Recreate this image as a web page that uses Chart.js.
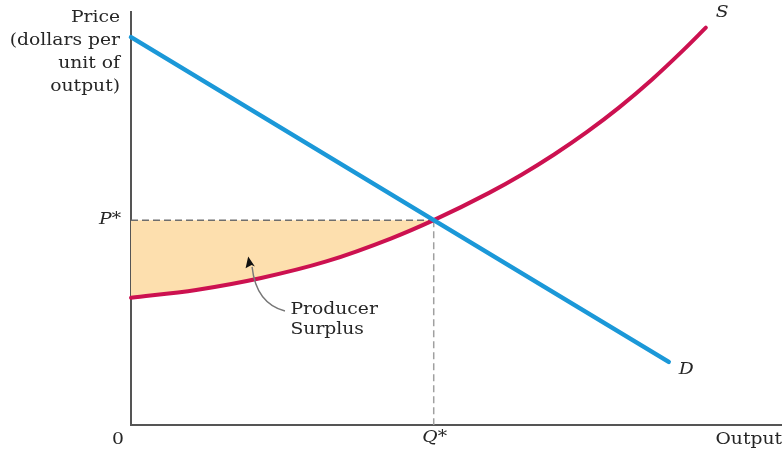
<!DOCTYPE html>
<html>
<head>
<meta charset="utf-8">
<script src="https://cdn.jsdelivr.net/npm/chart.js@4.4.1/dist/chart.umd.min.js"></script>
<style>
  html, body { margin: 0; padding: 0; background: #ffffff; }
  #wrap { width: 782px; height: 460px; position: relative; }
</style>
</head>
<body>
<div id="wrap"><canvas id="chart"></canvas></div>
<script>
// Supply curve (quantity, price)
const supplyQ = [0, 10, 20, 30, 40, 46.5, 55, 60, 65, 70, 75, 80, 85, 88.3];
const supplyP = [30.8, 32.7, 35.6, 39.6, 45.2, 49.6, 56.2, 60.6, 65.5, 70.9, 76.9, 83.6, 91.0, 96.2];

// Demand line (quantity, price)
const demandQ = [0, 46.5, 82.6];
const demandP = [93.9, 49.6, 15.3];

// Market equilibrium
const eqQ = 46.5;
const eqP = 49.6;

const toPts = (xs, ys) => xs.map((x, i) => ({ x: x, y: ys[i] }));

// Producer surplus: between the price line P* and the supply curve, up to Q*
const surplusLower = toPts(supplyQ, supplyP).filter(p => p.x <= eqQ);
const surplusUpper = surplusLower.map(p => ({ x: p.x, y: eqP }));

const SERIF = '"DejaVu Serif", "Liberation Serif", serif';
const TEXT_STRETCH = 1.17;

// text drawn slightly widened, book-figure style
function wideText(ctx, text, x, y, align) {
  ctx.save();
  ctx.translate(x, y);
  ctx.scale(TEXT_STRETCH, 1);
  ctx.textAlign = align;
  ctx.fillText(text, 0, 0);
  ctx.restore();
}

const labelsPlugin = {
  id: 'econLabels',
  afterDraw(chart) {
    const { ctx, scales: { x, y } } = chart;
    const px = v => x.getPixelForValue(v);
    const py = v => y.getPixelForValue(v);
    ctx.save();
    ctx.fillStyle = '#262626';
    ctx.textBaseline = 'middle';

    // y-axis title
    ctx.font = '16px ' + SERIF;
    const yTitle = ['Price', '(dollars per', 'unit of', 'output)'];
    yTitle.forEach((t, i) => wideText(ctx, t, px(0) - 11, 18 + i * 23, 'right'));

    // origin and x-axis title
    wideText(ctx, '0', px(0) - 13, py(0) + 15, 'center');
    wideText(ctx, 'Output', chart.width, py(0) + 15, 'right');

    // equilibrium tick labels
    ctx.font = 'italic 16px ' + SERIF;
    wideText(ctx, 'P*', px(0) - 10, py(eqP), 'right');
    wideText(ctx, 'Q*', px(eqQ) + 1, py(0) + 13, 'center');

    // curve names
    const sEnd = supplyQ.length - 1;
    wideText(ctx, 'S', px(supplyQ[sEnd]) + 10, py(supplyP[sEnd]) - 15, 'left');
    const dEnd = demandQ.length - 1;
    wideText(ctx, 'D', px(demandQ[dEnd]) + 10, py(demandP[dEnd]) + 8, 'left');

    // surplus annotation
    ctx.font = '16px ' + SERIF;
    wideText(ctx, 'Producer', px(24.5), py(27.8), 'left');
    wideText(ctx, 'Surplus', px(24.5), py(23.0), 'left');

    // curved pointer to the shaded area
    ctx.strokeStyle = '#777';
    ctx.lineWidth = 1.4;
    ctx.beginPath();
    ctx.moveTo(px(23.65), py(27.6));
    ctx.bezierCurveTo(px(20.1), py(29.1), px(18.9), py(33.9), px(18.6), py(38.3));
    ctx.stroke();
    // arrow head
    const tipX = px(18.0), tipY = py(40.8);
    ctx.fillStyle = '#111';
    ctx.beginPath();
    ctx.moveTo(tipX, tipY);
    ctx.lineTo(tipX + 6.7, tipY + 10);
    ctx.lineTo(tipX + 3.4, tipY + 8.4);
    ctx.lineTo(tipX - 2.6, tipY + 11.7);
    ctx.closePath();
    ctx.fill();
    ctx.restore();
  }
};

new Chart(document.getElementById('chart'), {
  type: 'line',
  data: {
    datasets: [
      {
        label: 'Demand',
        data: toPts(demandQ, demandP),
        borderColor: '#1b98d8',
        borderWidth: 4.5,
        pointRadius: 0,
        fill: false,
        tension: 0,
        borderCapStyle: 'round',
        clip: false
      },
      {
        label: 'Supply',
        data: toPts(supplyQ, supplyP),
        borderColor: '#cc1150',
        borderWidth: 4,
        pointRadius: 0,
        fill: false,
        cubicInterpolationMode: 'monotone',
        borderCapStyle: 'round',
        clip: false
      },
      {
        label: 'P*',
        data: [{ x: 0, y: eqP }, { x: eqQ, y: eqP }],
        borderColor: '#6e6e6e',
        borderWidth: 1.5,
        borderDash: [7, 4],
        pointRadius: 0,
        fill: false
      },
      {
        label: 'Q*',
        data: [{ x: eqQ, y: eqP }, { x: eqQ, y: 0 }],
        borderColor: '#a0a0a0',
        borderWidth: 1.5,
        borderDash: [7, 4],
        pointRadius: 0,
        fill: false
      },
      {
        label: 'Surplus top',
        data: surplusUpper,
        borderWidth: 0,
        borderColor: 'rgba(0,0,0,0)',
        pointRadius: 0,
        fill: { target: 5 },
        backgroundColor: '#fddfae'
      },
      {
        label: 'Surplus bottom',
        data: surplusLower,
        borderWidth: 0,
        borderColor: 'rgba(0,0,0,0)',
        pointRadius: 0,
        fill: false,
        cubicInterpolationMode: 'monotone'
      }
    ]
  },
  options: {
    responsive: true,
    maintainAspectRatio: false,
    animation: false,
    layout: { padding: { left: 131, right: 0, top: 12, bottom: 35 } },
    plugins: { legend: { display: false }, tooltip: { enabled: false } },
    scales: {
      x: {
        type: 'linear', min: 0, max: 100,
        grid: { display: false, drawTicks: false },
        ticks: { display: false },
        border: { display: true, color: '#555', width: 2 }
      },
      y: {
        type: 'linear', min: 0, max: 100,
        grid: { display: false, drawTicks: false },
        ticks: { display: false },
        border: { display: true, color: '#555', width: 2 }
      }
    }
  },
  plugins: [labelsPlugin]
});
</script>
</body>
</html>
